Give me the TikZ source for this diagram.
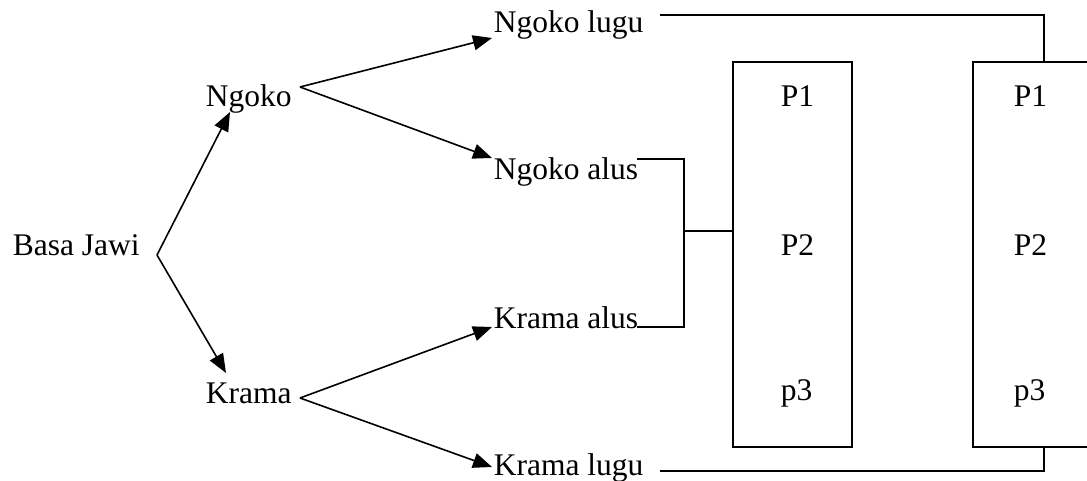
\documentclass[tikz,border=0pt]{standalone}
\usepackage{fontspec}
\setmainfont{Liberation Serif}
\usetikzlibrary{arrows.meta}
\begin{document}
\begin{tikzpicture}[x=1pt,y=-1pt,line width=1.6pt,
  lbl/.style={anchor=base west,inner sep=0pt,font=\fontsize{31.5}{37}\selectfont},
  arr/.style={-{Triangle[length=19pt,width=15pt]}},
  box/.style={draw,line width=1.6pt,inner sep=0pt}]
\useasboundingbox (0,0) rectangle (1087,481);
% boxes
\node[box,minimum width=119pt,minimum height=385pt] (b1) at (792.5,254.5) {};
\node[box,minimum width=120pt,minimum height=385pt] (b2) at (1033,254.5) {};
% labels
\node[lbl] (bj) at (12,255) {Basa Jawi};
\node[lbl] (ng) at (205,107) {Ngoko};
\node[lbl] (kr) at (205,403) {Krama};
\node[lbl] (nl) at (493,33) {Ngoko lugu};
\node[lbl] (na) at (493,180) {Ngoko alus};
\node[lbl] (ka) at (493,328) {Krama alus};
\node[lbl] (kl) at (493,475) {Krama lugu};
\node[lbl] (p1a) at (780,107) {P1};
\node[lbl] (p2a) at (780,255) {P2};
\node[lbl] (p3a) at (780,400) {p3};
\node[lbl] (p1b) at (1013,107) {P1};
\node[lbl] (p2b) at (1013,255) {P2};
\node[lbl] (p3b) at (1013,400) {p3};
% coordinates
\coordinate (bjv) at (157,255);
\coordinate (ngv) at (300,87);
\coordinate (krv) at (300,398);
\coordinate (ngt) at (230,112);
\coordinate (krt) at (226,373);
\coordinate (nlt) at (492,38);
\coordinate (nat) at (492,158);
\coordinate (kat) at (492,327);
\coordinate (klt) at (492,467);
\coordinate (nle) at (660,15);
\coordinate (nae) at (637,159);
\coordinate (kae) at (637,327);
\coordinate (kle) at (660,471);
\coordinate (brk) at (684,231);
\coordinate (rc) at (1044,254.5);
% arrows
\draw[arr] (bjv) -- (ngt);
\draw[arr] (bjv) -- (krt);
\draw[arr] (ngv) -- (nlt);
\draw[arr] (ngv) -- (nat);
\draw[arr] (krv) -- (kat);
\draw[arr] (krv) -- (klt);
% connectors
\draw (nle) -- (nle -| rc) -- (rc |- b2.north);
\draw (kle) -- (kle -| rc) -- (rc |- b2.south);
\draw (nae) -- (nae -| brk) -- (kae -| brk) -- (kae);
\draw (brk) -- (brk -| b1.west);
\end{tikzpicture}
\end{document}
